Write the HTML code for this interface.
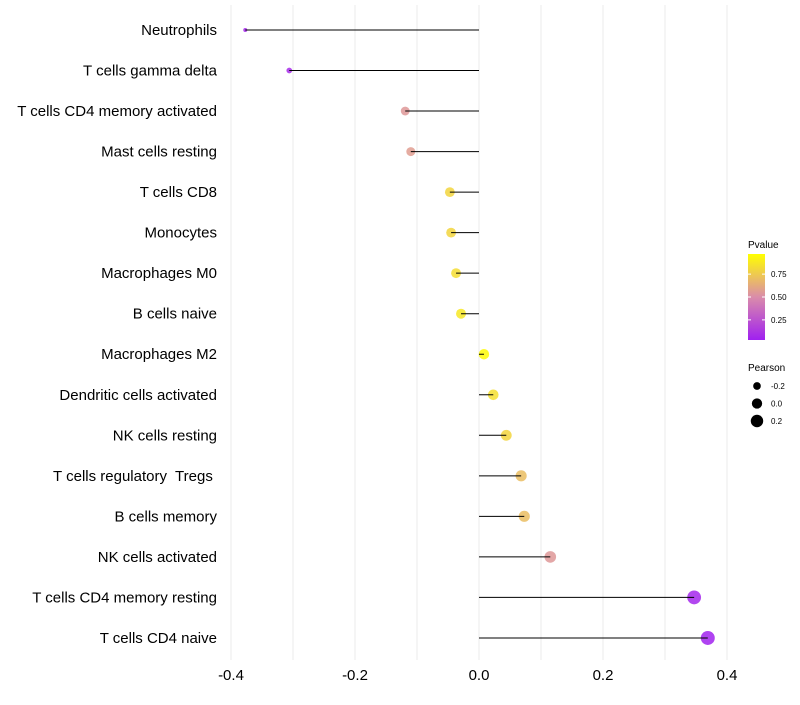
<!DOCTYPE html>
<html><head><meta charset="utf-8"><style>
body{margin:0;background:#fff;font-family:"Liberation Sans",sans-serif}
svg text{font-family:"Liberation Sans",sans-serif;white-space:pre}
</style></head><body>
<svg id="c" width="800" height="700"></svg>
<script>
const categories=["Neutrophils","T cells gamma delta","T cells CD4 memory activated","Mast cells resting","T cells CD8","Monocytes","Macrophages M0","B cells naive","Macrophages M2","Dendritic cells activated","NK cells resting","T cells regulatory  Tregs ","B cells memory","NK cells activated","T cells CD4 memory resting","T cells CD4 naive"];
const pearson=[-0.377,-0.306,-0.119,-0.110,-0.047,-0.045,-0.037,-0.029,0.008,0.023,0.044,0.068,0.073,0.115,0.347,0.369];
const pvalues=[0.06,0.08,0.55,0.57,0.8,0.8,0.83,0.87,0.95,0.84,0.8,0.7,0.7,0.55,0.06,0.04];
const xTicks=[-0.4,-0.2,0.0,0.2,0.4];
const xTickLabels=["-0.4","-0.2","0.0","0.2","0.4"];
const legTicks=[0.75,0.5,0.25];
const sizeLeg=[-0.2,0.0,0.2];

const NS="http://www.w3.org/2000/svg";
const svg=document.getElementById('c');
function mk(t,a,p){const e=document.createElementNS(NS,t);for(const k in a)e.setAttribute(k,a[k]);(p||svg).appendChild(e);return e;}
const x=v=>479+v*620;
const y=i=>30+i*40.53;
const r=v=>Math.sqrt(Math.max(4,26.7+60.3*v));
function col(p){
 const s=[[0,[160,32,240]],[0.5,[218,140,170]],[1,[255,255,0]]];
 const t=Math.max(0,Math.min(1,(p-0.03)/0.94));
 let a=s[0],b=s[1];if(t>0.5){a=s[1];b=s[2];}
 const f=(t-a[0])/(b[0]-a[0]);
 return 'rgb('+a[1].map((c,k)=>Math.round(c+(b[1][k]-c)*f)).join(',')+')';
}
for(let v=-0.4;v<=0.401;v+=0.1){const g=mk('line',{x1:x(v),x2:x(v),y1:5,y2:660,stroke:'#ebebeb','stroke-width':1});

}
xTicks.forEach((v,i)=>{const t=mk('text',{x:x(v),y:680,'text-anchor':'middle','font-size':15,fill:'#000'});t.textContent=xTickLabels[i];

});
categories.forEach((c,i)=>{
 const t=mk('text',{x:217,y:y(i)+5,'text-anchor':'end','font-size':15,fill:'#000'});t.textContent=c;
 
 
 const d=mk('circle',{cx:x(pearson[i]),cy:y(i),r:r(pearson[i]),fill:col(pvalues[i]),'fill-opacity':0.85});
 
 
 const l=mk('line',{x1:x(0),x2:x(pearson[i]),y1:y(i),y2:y(i),stroke:'#000','stroke-width':1});
 
 
});
const lt=mk('text',{x:748,y:248,'font-size':10});lt.textContent='Pvalue';


const defs=mk('defs',{});const gr=mk('linearGradient',{id:'g',x1:0,y1:1,x2:0,y2:0},defs);
[0,0.25,0.5,0.75,1].forEach(o=>mk('stop',{offset:o,'stop-color':col(0.03+0.94*o)},gr));
const cb=mk('rect',{x:748,y:254,width:17,height:86,fill:'url(#g)'});


legTicks.forEach(p=>{const yy=340-(p-0.03)/0.94*86;
 mk('line',{x1:748,x2:751,y1:yy,y2:yy,stroke:'#fff'});mk('line',{x1:762,x2:765,y1:yy,y2:yy,stroke:'#fff'});
 const t=mk('text',{x:771,y:yy+3,'font-size':8});t.textContent=p.toFixed(2);
 
 });
const st=mk('text',{x:748,y:371,'font-size':10});st.textContent='Pearson';


sizeLeg.forEach((v,i)=>{const yy=386+i*17.5;
 const c=mk('circle',{cx:757,cy:yy,r:r(v),fill:'#000'});
 
 
 const t=mk('text',{x:771,y:yy+3,'font-size':8});t.textContent=v.toFixed(1);
 
 });
</script>
</body></html>
